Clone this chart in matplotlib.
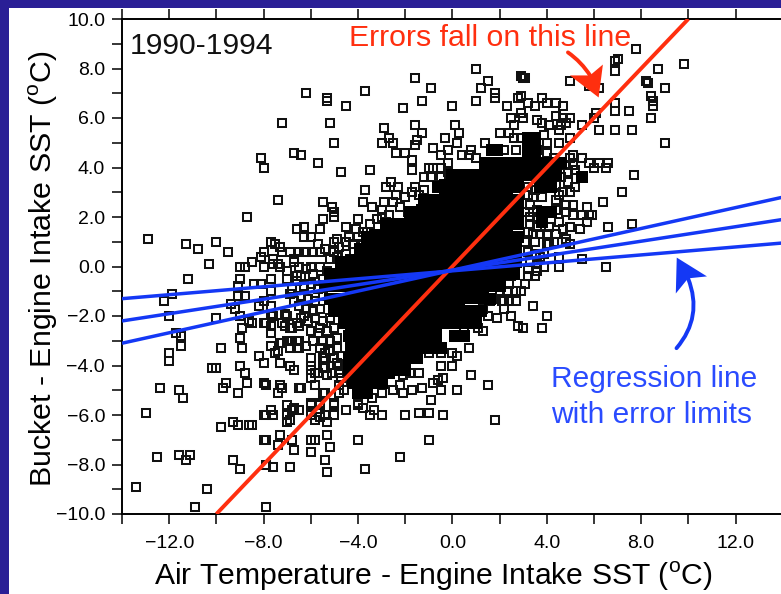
"""
Bucket minus engine intake SST against air temperature minus engine intake SST,
1990-1994, with the 1:1 error line and the regression line with its error limits.
"""

import matplotlib
matplotlib.use("Agg")
import matplotlib.pyplot as plt
from matplotlib.patches import Polygon, Rectangle

plt.rcParams["font.family"] = ["Liberation Sans", "DejaVu Sans"]
plt.rcParams["mathtext.fontset"] = "custom"
plt.rcParams["mathtext.rm"] = "Liberation Sans"

# ------------------------------------------------------------------
# Data
# ------------------------------------------------------------------

x_ticks = [-14, -12, -10, -8, -6, -4, -2, 0, 2, 4, 6, 8, 10, 12, 14]
x_tick_labels = ["", "\u221212.0", "", "\u22128.0", "", "\u22124.0", "", "0.0", "", "4.0", "", "8.0", "", "12.0", ""]
y_ticks = list(range(-10, 11))
y_tick_labels = [f"{v:.1f}".replace("-", "\u2212") if v % 2 == 0 else "" for v in y_ticks]

error_x = [-10, 10]
error_y = [-10, 10]

reg_x = [-14, 14]
reg_upper = [-1.3, 0.95]
reg_mid = [-2.2, 1.9]
reg_lower = [-3.1, 2.8]

# scattered points, one list per part of the plot
pts_far_left = [
    (-12.9, 1.1), (-11.3, 0.9), (-10.8, 0.7), (-10.0, 1.0), (-9.5, 0.6), (-10.3, 0.1), (-11.2, -0.5),
    (-11.9, -1.1), (-12.2, -1.4), (-12.0, -2.0), (-11.7, -2.7), (-11.5, -2.8), (-11.5, -3.2),
    (-12.0, -3.5), (-12.0, -3.8), (-10.0, -2.1), (-9.8, -3.3), (-10.2, -4.1), (-10.0, -4.1),
    (-9.6, -4.7), (-9.7, -4.9), (-12.4, -4.9), (-11.6, -5.0), (-11.4, -5.3), (-13.0, -5.9),
    (-9.8, -6.5), (-12.5, -7.7), (-11.6, -7.6), (-11.3, -7.8), (-11.1, -7.6), (-13.4, -8.9),
    (-10.4, -9.0), (-10.9, -9.7),
]
pts_upper_left = [
    (-8.7, 2.0), (-8.1, 4.4), (-8.0, 4.0), (-7.4, 2.7), (-7.2, 5.8), (-6.7, 4.6), (-6.4, 4.5),
    (-6.2, 7.0), (-5.3, 6.8), (-5.3, 6.7), (-5.2, 5.8), (-5.0, 5.0), (-5.7, 4.2), (-4.7, 3.8),
    (-4.5, 6.5), (-3.7, 7.1), (-3.5, 3.9), (-3.7, 3.1), (-2.9, 5.6), (-3.0, 5.0), (-2.7, 5.2),
    (-2.5, 5.0), (-2.8, 3.2), (-2.6, 3.4), (-3.8, 2.6), (-3.4, 2.4), (-5.5, 2.6), (-5.1, 2.4),
    (-5.0, 2.2), (-5.0, 2.0), (-5.5, 1.9), (-6.6, 1.5), (-6.3, 1.6), (-6.3, 1.2), (-6.0, 1.2),
    (-5.6, 1.5), (-4.5, 1.6), (-4.0, 1.9), (-5.0, 1.0), (-4.9, 1.1), (-4.5, 1.0), (-4.0, 1.2),
    (-3.8, 1.4), (-5.7, 0.9), (-2.4, 4.6), (-2.0, 4.6), (-1.7, 4.3), (-1.7, 3.9), (-2.3, 3.2),
    (-1.7, 3.0), (-3.0, 2.0), (-2.8, 1.8), (-1.2, 3.6), (-0.9, 3.6), (-0.5, 3.6),
]
pts_left_band = [
    (-6.3, 0.6), (-5.9, 0.6), (-5.6, 0.6), (-6.5, 0.6), (-6.2, 0.6), (-5.0, 0.6), (-8.1, 0.4),
    (-8.0, 0.6), (-8.5, 0.2), (-9.0, 0.0), (-8.8, 0.0), (-8.0, 0.0), (-7.7, 1.0), (-7.5, 0.9),
    (-7.3, 0.8), (-7.2, 0.6), (-6.9, 0.6), (-6.7, 0.3), (-7.6, 0.3), (-7.6, 0.1), (-7.4, 0.1),
    (-7.3, 0.0), (-7.0, -0.2), (-7.0, -0.5), (-6.5, 0.0), (-6.0, 0.0), (-5.6, 0.0), (-5.3, -0.2),
    (-6.7, 0.2), (-6.6, -0.4), (-6.4, -0.4), (-9.0, -0.5), (-9.1, -0.8), (-8.8, -1.2), (-9.1, -1.2),
    (-7.7, -0.5), (-8.4, -0.7), (-8.1, -0.7), (-6.9, -1.1), (-7.7, -1.0), (-9.4, -1.5), (-9.2, -1.7),
    (-9.0, -2.0), (-8.6, -2.2), (-8.5, -2.3), (-8.9, -2.5), (-9.0, -2.9), (-8.9, -3.3),
    (-8.2, -1.6), (-7.7, -1.6), (-8.0, -1.4), (-7.1, -1.9), (-7.7, -1.9), (-7.0, -2.0), (-6.3, -2.0),
    (-7.6, -2.0), (-8.0, -2.3), (-7.9, -2.3), (-7.7, -2.4), (-7.7, -2.7), (-7.2, -2.3), (-6.9, -2.5),
    (-6.6, -2.3), (-7.1, -2.4), (-6.8, -2.5), (-6.5, -2.4), (-5.7, -2.7), (-5.5, -3.0),
]
pts_lower_left = [
    (-8.2, -3.6), (-8.0, -3.9), (-9.0, -4.0), (-8.8, -4.3), (-8.7, -4.7), (-9.1, -5.1), (-8.0, -4.7),
    (-7.9, -4.8), (-7.3, -4.8), (-7.2, -4.9), (-7.4, -5.1), (-6.5, -4.9), (-6.9, -4.0), (-6.7, -4.2),
    (-7.7, -3.2), (-7.3, -3.1), (-7.0, -3.0), (-6.6, -3.0), (-7.5, -3.5), (-7.3, -3.9), (-6.9, -3.3),
    (-6.6, -3.3), (-6.0, -3.7), (-6.0, -4.0), (-5.8, -4.3), (-6.0, -4.5), (-5.8, -4.8), (-5.4, -3.7),
    (-5.4, -4.1), (-5.3, -4.4), (-5.4, -5.1), (-6.8, -3.0), (-6.5, -3.0), (-7.2, -3.1), (-6.5, -3.3),
    (-6.2, -3.2), (-7.4, -3.4), (-9.3, -6.3), (-9.1, -6.4), (-8.6, -6.4), (-8.5, -6.4), (-8.0, -6.0),
    (-7.9, -6.0), (-7.7, -5.8), (-7.6, -6.0), (-7.0, -5.6), (-7.0, -6.0), (-6.8, -5.8), (-6.5, -5.8),
    (-7.0, -6.3), (-6.9, -6.2), (-6.0, -5.6), (-5.6, -5.6), (-6.0, -6.0), (-5.8, -6.2), (-5.6, -6.1),
    (-5.3, -6.3), (-5.4, -6.0), (-5.0, -6.0), (-5.0, -5.6), (-4.5, -5.8), (-4.0, -5.6), (-3.8, -5.7),
    (-3.5, -6.0), (-3.3, -5.8), (-3.0, -6.0), (-8.0, -7.0), (-7.9, -7.0), (-7.3, -6.8), (-7.4, -7.2),
    (-6.8, -7.0), (-6.7, -7.4), (-6.0, -7.0), (-5.8, -7.0), (-5.3, -6.8), (-5.2, -7.3), (-6.0, -7.5),
    (-4.0, -7.0), (-5.4, -7.8), (-5.3, -8.3), (-9.3, -7.8), (-9.0, -8.2), (-7.9, -8.0), (-7.6, -8.1),
    (-6.9, -8.1), (-3.7, -8.2), (-7.9, -9.7), (-6.4, -4.9), (-6.0, -5.5), (-6.7, -5.7), (-5.6, -5.5),
    (-4.0, -5.5), (-5.0, -5.5), (-3.4, -5.3), (-4.8, -5.1), (-5.5, -5.1), (-5.8, -4.8), (-5.7, -4.3),
    (-5.5, -4.1), (-5.1, -4.3), (-4.8, -4.3), (-4.3, -4.6), (-5.5, -3.7), (-4.9, -3.9), (-5.4, -3.5),
    (-6.0, -4.2),
]
pts_lower_right = [
    (3.4, -1.6), (4.0, -2.0), (3.8, -2.5), (3.0, -2.5), (2.8, -2.4), (2.5, -2.0), (1.9, -2.1),
    (1.5, -2.0), (1.3, -1.7), (2.2, -1.7), (1.6, -1.4), (2.2, -1.4), (2.7, -1.4), (2.4, -1.4),
    (1.0, -2.2), (1.1, -2.5), (1.3, -2.6), (0.5, -2.5), (0.7, -3.3), (0.8, -4.4), (1.5, -4.8),
    (1.8, -6.2), (0.2, -5.0), (-0.4, -4.5), (-0.8, -4.7), (-0.6, -4.6), (-0.5, -5.0), (-1.3, -4.9),
    (-1.7, -5.0), (-2.1, -5.1), (-2.5, -5.0), (-2.2, -4.8), (-0.9, -5.4), (-2.0, -6.0), (-1.4, -5.9),
    (-1.0, -5.9), (-0.4, -6.0), (-1.0, -7.0), (-2.2, -7.7), (-0.5, -4.0), (0.0, -4.0), (0.0, -3.5),
    (0.2, -3.6), (-0.5, -3.5), (-1.0, -3.5), (-1.4, -4.3), (-1.8, -4.3), (-2.1, -4.4), (-3.0, -5.1),
    (2.9, -1.0), (2.4, -0.7), (2.0, -1.0), (1.7, -1.3), (2.1, -1.4), (3.2, -0.4), (3.5, -0.4),
    (2.5, -0.4),
]
pts_right = [
    (5.8, 4.2), (6.0, 4.0), (6.2, 4.2), (6.5, 4.0), (6.6, 4.2), (5.1, 4.5), (5.5, 4.4), (5.0, 4.4),
    (7.7, 3.7), (7.2, 3.0), (6.4, 2.6), (6.6, 1.6), (7.6, 1.7), (6.5, 0.0), (5.5, 0.3), (5.7, 2.4),
    (5.9, 2.1), (5.5, 2.1), (5.7, 1.8), (5.4, 1.5), (5.1, 2.1), (4.8, 2.2), (5.1, 2.5), (5.0, 1.6),
    (4.7, 1.5), (4.5, 1.8), (4.1, 1.6), (3.6, 1.6), (4.9, 3.4), (5.2, 3.2), (5.0, 3.0), (4.7, 3.0),
    (4.8, 1.0), (5.0, 0.9), (4.3, 1.0), (4.0, 0.9), (3.5, 1.0), (4.5, 0.0), (3.9, 0.0), (3.6, 0.1),
    (4.5, 0.4), (3.3, 2.5), (3.3, 2.0), (4.8, 2.5), (5.8, 2.1), (3.2, 1.4), (4.1, 0.9), (4.8, 1.1),
    (3.8, 3.5), (3.4, 2.8), (4.4, 2.7), (3.6, 2.3), (4.6, 3.6), (5.2, 3.9), (3.2, 3.2),
]
pts_upper_right = [
    (7.8, 8.8), (9.8, 8.2), (8.7, 8.0), (7.0, 8.4), (6.9, 8.3), (6.9, 7.9), (8.2, 7.5), (8.3, 7.4),
    (9.0, 7.2), (8.4, 6.9), (8.5, 6.7), (8.5, 6.5), (8.4, 6.0), (7.5, 6.3), (6.9, 6.6), (6.9, 6.3),
    (7.6, 5.5), (6.9, 5.5), (6.2, 5.5), (6.1, 6.2), (6.0, 6.0), (9.0, 5.0), (5.0, 7.5), (5.8, 7.3),
    (6.2, 7.2), (1.0, 8.0), (1.5, 7.5), (1.2, 7.2), (-1.6, 7.6), (-0.9, 7.2), (-1.3, 6.7), (-2.1, 6.4),
    (0.0, 6.5), (1.0, 6.7), (1.8, 7.0), (1.8, 6.8), (2.3, 6.5), (2.9, 7.7), (3.0, 7.6), (3.1, 7.6),
    (2.8, 6.8), (2.9, 6.9), (3.2, 6.6), (3.5, 6.5), (3.8, 6.8), (4.0, 6.6), (4.4, 6.6), (4.7, 6.5),
    (2.9, 6.2), (2.5, 6.0), (3.0, 6.0), (2.6, 5.7), (3.6, 5.9), (3.8, 5.8), (4.4, 6.1), (4.7, 6.0),
    (5.0, 6.0), (4.1, 5.7), (4.6, 5.7), (4.8, 5.8), (4.5, 5.5), (5.5, 5.7), (2.0, 5.4), (2.4, 5.4),
    (2.6, 5.2), (2.9, 5.2), (3.9, 5.3), (4.0, 5.0), (4.5, 5.0), (5.0, 5.2), (-1.6, 5.7), (-1.3, 5.4),
    (-1.5, 5.1), (-1.6, 4.9), (0.1, 5.7), (0.3, 5.4), (-0.3, 5.2), (0.2, 5.0), (-0.8, 4.8), (-0.5, 4.5),
    (-0.2, 4.7), (0.8, 4.7), (0.4, 4.5), (0.7, 4.5), (1.0, 4.4), (1.4, 5.0), (2.2, 4.7), (2.7, 4.7),
    (-1.0, 4.0), (-0.8, 4.0), (-0.5, 4.0), (-0.2, 4.2), (-0.2, 3.8),
]
pts_dense_left = [
    (-6.2, -0.1), (-5.9, -0.3), (-5.5, -0.5), (-6.3, -0.8), (-6.0, -0.7), (-5.7, -0.9), (-6.4, -1.2),
    (-6.1, -1.3), (-5.8, -1.4), (-5.5, -1.2), (-6.5, -1.6), (-6.2, -1.7), (-5.9, -1.8), (-5.6, -1.7),
    (-6.6, -0.6), (-6.8, -0.9), (-6.7, -1.4), (-6.4, -2.1), (-6.1, -2.2), (-5.8, -2.1), (-5.5, -2.2),
    (-5.2, -2.1), (-6.0, -2.6), (-5.6, -2.5), (-5.3, -2.6), (-5.0, -2.5), (-5.9, -3.0), (-5.2, -3.0),
    (-4.9, -2.9), (-5.6, -3.3), (-5.2, -3.4), (-4.9, -3.3), (-5.0, -3.7), (-4.7, -3.6), (-4.8, -4.0),
    (-4.7, -4.5), (-4.8, -4.8), (-4.6, -5.0), (-5.2, 0.3), (-4.9, 0.4), (-5.4, 0.7), (-4.8, 0.8),
    (-4.5, 0.5), (-4.2, 0.9), (-4.4, 1.2), (-4.1, 1.5), (-3.8, 0.9), (-3.5, 1.7), (-3.2, 1.9),
    (-3.0, 2.3), (-2.7, 2.1), (-2.5, 2.6), (-2.2, 2.4), (-2.0, 2.8), (-1.9, 2.2), (-1.6, 3.2),
    (-1.4, 2.9), (-1.2, 3.1), (-2.4, 2.9), (-3.6, 1.4), (-2.9, 2.6),
]
pts_dense_right = [
    (3.2, 0.6), (3.5, 0.5), (3.3, 0.2), (3.7, 0.4), (3.2, -0.1), (3.6, -0.2), (3.9, 0.5), (3.1, 1.0),
    (3.4, 1.3), (3.7, 1.3), (3.3, 1.7), (3.1, 2.2), (3.6, 2.0), (3.4, 2.2), (4.4, 2.3), (4.2, 1.9),
    (4.0, 1.3), (4.4, 1.3), (3.2, 2.9), (3.5, 3.1), (4.0, 3.4), (3.8, 2.8), (4.4, 3.3), (4.5, 2.9),
    (4.3, 3.8), (4.8, 4.1), (5.1, 4.1), (4.9, 3.8), (3.6, 4.7), (4.0, 4.6), (4.3, 4.4), (3.1, -0.7),
    (2.7, -1.0), (2.3, -1.0),
]

# black mass in the middle, where the markers overlap completely
core_x = [
    0, 1, 2,
    -1, 0, 1, 2,
    -3, -2, -1, 0, 1, 2,
    -4, -3, -2, -1, 0, 1, 2,
    -4, -3, -2, -1, 0, 1,
    -4, -3, -2, -1, 0,
    -4, -3, -2, -1,
    -3.8, -3,
]
core_y = [
    3, 3, 3,
    2, 2, 2, 2,
    1, 1, 1, 1, 1, 1,
    0, 0, 0, 0, 0, 0, 0,
    -1, -1, -1, -1, -1, -1,
    -2, -2, -2, -2, -2,
    -3, -3, -3, -3,
    -4, -4,
]
core_edge = [
    (3.2, 5.2), (3.5, 5.2), (5.5, 3.6), (1.7, 4.7), (1.9, 4.7), (3.2, 4.9), (3.5, 4.9), (3.2, 4.5), (3.5, 4.5),
    (1.4, 4.2), (1.8, 4.2), (2.2, 4.2), (2.6, 4.2), (3.0, 4.2), (3.4, 4.2), (3.8, 4.2), (4.2, 4.2), (4.6, 4.2),
    (0.0, 3.7), (0.5, 3.7), (1.0, 3.7), (1.5, 3.7), (2.0, 3.7), (2.5, 3.7), (3.0, 3.7), (3.5, 3.7), (4.0, 3.7), (4.4, 3.7),
    (-0.6, 3.2), (-0.1, 3.2), (2.8, 3.2), (3.7, 3.2), (4.2, 3.2),
    (-1.2, 2.7), (-0.7, 2.7), (2.8, 2.7),
    (-1.8, 2.2), (-1.5, 2.2), (2.8, 2.2), (3.8, 2.2), (4.2, 2.2),
    (-2.8, 1.7), (-2.3, 1.7), (-1.8, 1.7), (2.8, 1.7), (3.8, 1.8),
    (-3.6, 1.2), (-3.4, 1.2), (2.8, 1.2),
    (-3.9, 0.7), (-3.5, 0.7), (2.7, 0.7),
    (-4.7, 0.2), (-4.5, 0.2), (2.7, 0.2),
    (-5.2, -0.3), (-4.8, -0.3), (2.6, -0.3),
    (-5.4, -0.8), (-4.9, -0.8), (-4.5, -0.8), (1.7, -0.8), (2.0, -0.8),
    (-5.2, -1.3), (-4.7, -1.3), (1.6, -1.3),
    (-5.0, -1.8), (-4.6, -1.8), (0.8, -1.8), (1.2, -1.8),
    (-4.6, -2.3), (0.6, -2.3), (1.0, -2.3),
    (-4.4, -2.8), (0.1, -2.8), (0.5, -2.8),
    (-0.8, -3.3), (-0.5, -3.3),
    (-4.4, -3.7), (-2.3, -3.7), (-1.9, -3.7), (-1.5, -3.7),
    (-4.4, -4.2), (-2.4, -4.2), (-2.0, -4.2),
    (-4.2, -4.7), (-3.8, -4.7), (-3.4, -4.7), (-3.0, -4.7),
    (-4.0, -5.1), (-3.6, -5.1),
]

# ------------------------------------------------------------------
# Figure
# ------------------------------------------------------------------

W, H = 781, 594
BLUE_BG = "#2a1f96"
RED = "#ff2f0f"
BLUE = "#1438f5"
TEXT_BLUE = "#2a4bff"

fig = plt.figure(figsize=(W / 100, H / 100), dpi=100, facecolor="white")
ax = fig.add_axes([122 / W, 1 - 514 / H, (782.7 - 122) / W, (514 - 19) / H])

for group in [pts_far_left, pts_upper_left, pts_left_band, pts_lower_left, pts_lower_right,
              pts_right, pts_upper_right, pts_dense_left, pts_dense_right]:
    xs, ys = zip(*group)
    ax.plot(xs, ys, ls="none", marker="s", ms=5.5, mew=1.45, mec="#111111", mfc="none", zorder=2)

ax.plot(core_x, core_y, ls="none", marker="s", ms=18.5, mew=0, color="black", zorder=3)
edge_x, edge_y = zip(*core_edge)
ax.plot(edge_x, edge_y, ls="none", marker="s", ms=9.2, mew=0, color="black", zorder=3)

ax.plot(error_x, error_y, color=RED, lw=2.8, solid_capstyle="butt", zorder=4)
for reg_y in [reg_upper, reg_mid, reg_lower]:
    ax.plot(reg_x, reg_y, color=BLUE, lw=2.5, solid_capstyle="butt", zorder=5)

ax.set_xlim(-14, 14)
ax.set_ylim(-10, 10)
ax.set_xticks(x_ticks)
ax.set_xticklabels(x_tick_labels, fontsize=14)
ax.set_yticks(y_ticks)
ax.set_yticklabels(y_tick_labels, fontsize=14)
ax.tick_params(axis="both", direction="out", length=7.2, width=1.1, pad=5)
ax.tick_params(axis="x", top=True, pad=8)
for spine in ax.spines.values():
    spine.set_linewidth(1.4)

ax.set_xlabel("Air Temperature - Engine Intake SST ($^{\\mathrm{o}}$C)", fontsize=21.7)
ax.xaxis.set_label_coords((433 - 122) / (782.7 - 122), -(585 - 514) / (514 - 19), transform=ax.transAxes)
ax.xaxis.label.set_va("baseline")
ax.set_ylabel("Bucket - Engine Intake SST ($^{\\mathrm{o}}$C)", fontsize=21.9)
ax.yaxis.set_label_coords(-(122 - 52) / (782.7 - 122), (514 - 269) / (514 - 19), transform=ax.transAxes)
ax.yaxis.label.set_va("baseline")

ax.text(-13.67, 8.9, "1990-1994", fontsize=21.7, color="#111111", va="center", ha="left", zorder=6)
ax.text(-4.4, 9.25, "Errors fall on this line", fontsize=21.8, color=RED, va="center", ha="left", zorder=6)
ax.text(4.17, -4.55, "Regression line", fontsize=21.5, color=TEXT_BLUE, va="center", ha="left", zorder=6)
ax.text(4.17, -6.0, "with error limits", fontsize=21.5, color=TEXT_BLUE, va="center", ha="left", zorder=6)

# curved arrows with swept-back heads
ax.annotate("", xy=(5.85, 7.7), xytext=(4.9, 8.65),
            arrowprops=dict(arrowstyle="-", color=RED, lw=2.8,
                            connectionstyle="arc3,rad=-0.1", shrinkA=0, shrinkB=0), zorder=6)
ax.add_patch(Polygon([(6.2, 6.83), (4.98, 7.72), (5.83, 7.72), (6.38, 8.16)], closed=True, color=RED, lw=0, zorder=6))
ax.annotate("", xy=(9.99, -0.48), xytext=(9.5, -3.3),
            arrowprops=dict(arrowstyle="-", color=BLUE, lw=2.8,
                            connectionstyle="arc3,rad=0.3", shrinkA=0, shrinkB=0), zorder=6)
ax.add_patch(Polygon([(9.51, 0.36), (10.79, -0.4), (9.99, -0.48), (9.47, -1.09)], closed=True, color=BLUE, lw=0, zorder=6))

# blue border at the top and left of the slide
fig.add_artist(Rectangle((0, 0), 9 / W, 1, transform=fig.transFigure, color=BLUE_BG, lw=0, zorder=10))
fig.add_artist(Rectangle((0, 1 - 8 / H), 1, 8 / H, transform=fig.transFigure, color=BLUE_BG, lw=0, zorder=10))

fig.savefig("out.png", dpi=100)
